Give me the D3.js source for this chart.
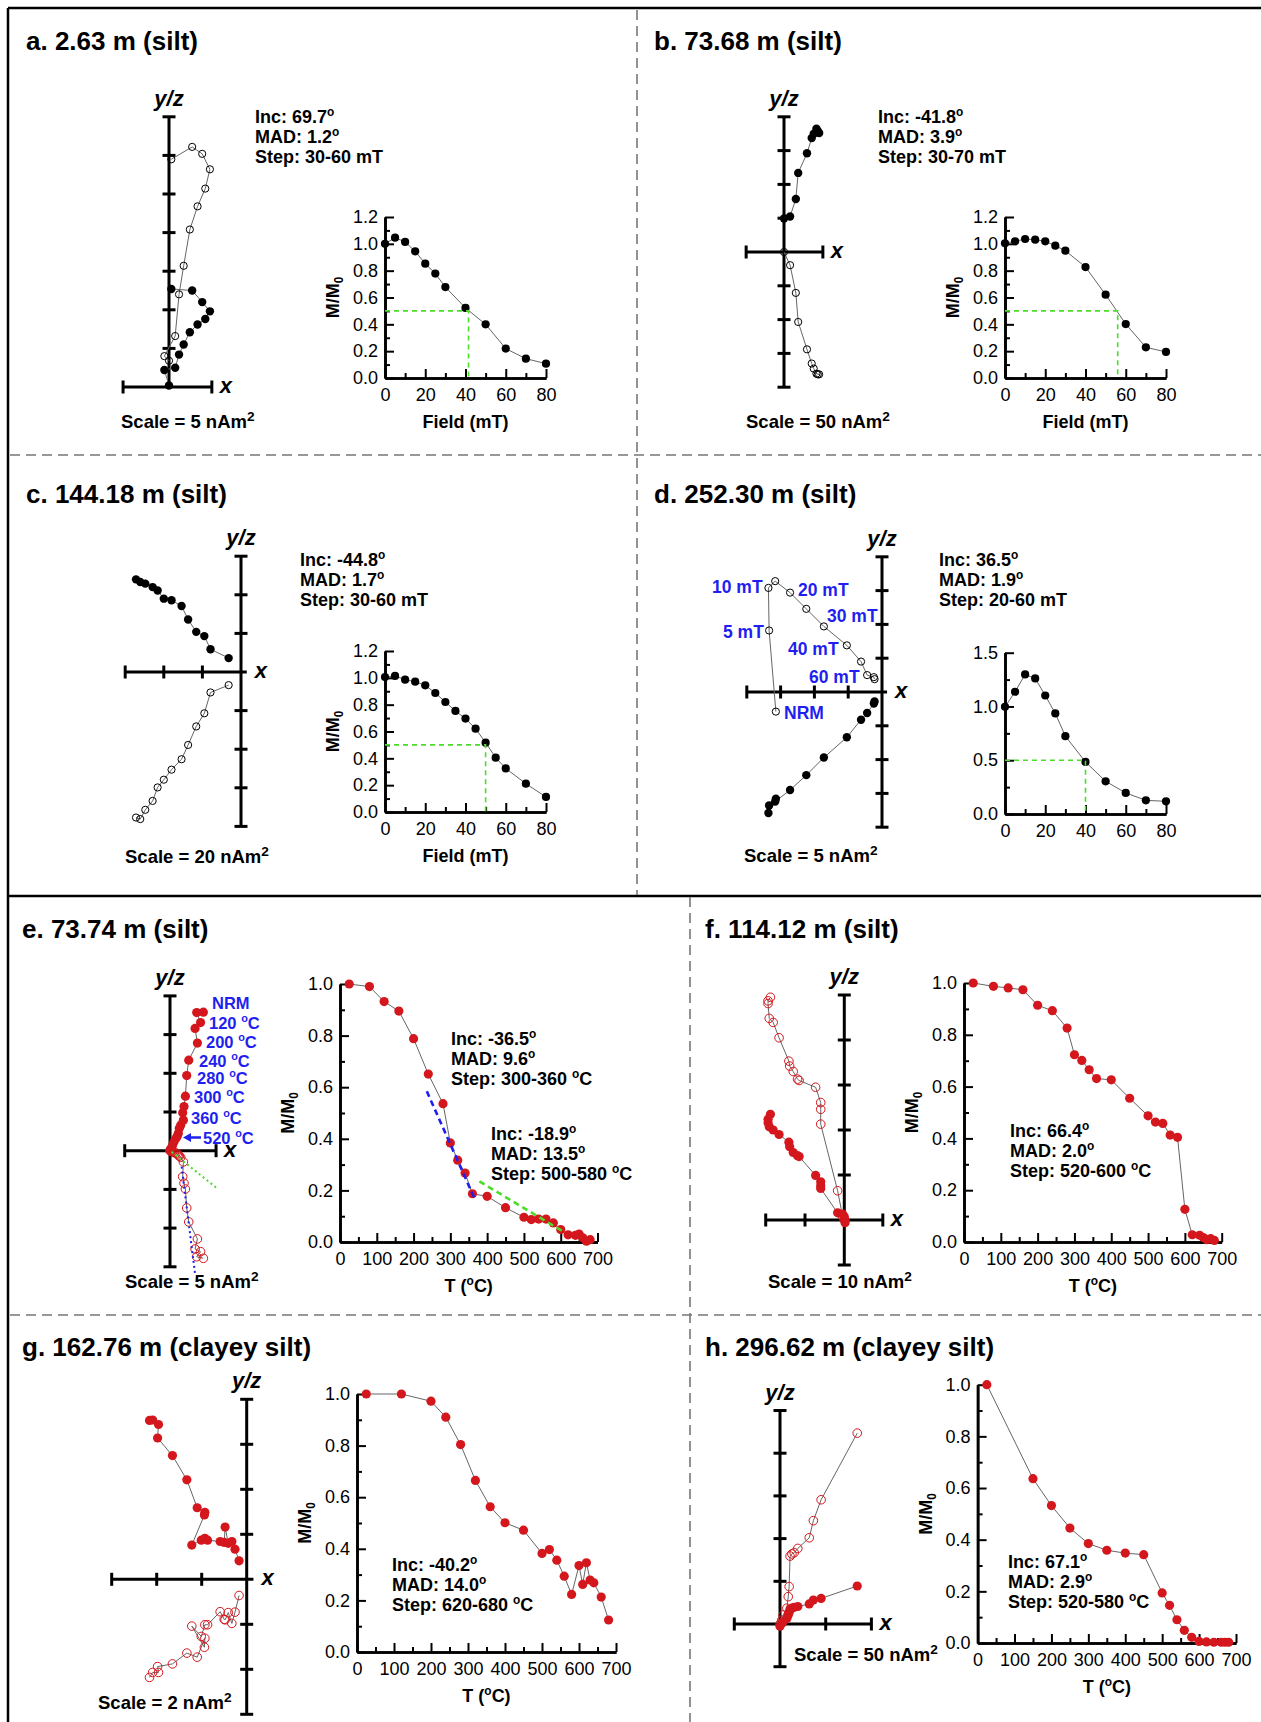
<!DOCTYPE html>
<html lang='en'>
<head>
    <meta charset='UTF-8'>
    <title>Demagnetization results</title>
    <script src='https://cdnjs.cloudflare.com/ajax/libs/d3/7.8.5/d3.min.js'></script>
    <style>
        body { margin: 0; background: #fff; }
        svg { display: block; }
    </style>
</head>
<body>
    <svg id='fig'></svg>
    <script>
        // ---- Zijderveld components (nAm^2): x, horizontal (y, filled) and vertical (z, open) ----
        const aZx = [0.3, 3.0, 4.3, 5.3, 4.7, 3.7, 2.7, 1.9, 1.3, 0.8, -0.6, 0.0];
        const aZy = [12.7, 12.5, 11.0, 9.8, 8.8, 8.1, 7.1, 5.5, 4.2, 2.5, 2.2, 0.2];
        const aZz = [29.5, 31.1, 30.2, 28.2, 25.7, 23.4, 20.4, 15.7, 12.0, 6.6, 4.0, 3.4];

        const bZx = [50, 52, 48, 44, 41, 34, 21, 17.5, 9, 0];
        const bZy = [179, 176, 182.5, 175, 168.5, 146, 117, 78.5, 52.5, 49.5];
        const bZz = [-181, -181, -180, -172.5, -165, -144, -103.5, -60.5, -19.5, 0];

        const cZx = [-54.4, -52.2, -49.6, -45.8, -43.2, -40, -36, -30.8, -27.4, -23.2, -19, -15.8, -6.4];
        const cZy = [48, 46.6, 45.8, 44, 42.2, 38, 37.2, 34.2, 27.2, 20.8, 18.6, 11.8, 7.2];
        const cZz = [-75.4, -76.2, -71.4, -66.8, -59.8, -55.8, -50.6, -45.2, -37.8, -28.2, -21.4, -10.6, -6.8];

        const dZx = [-15.7, -16.7, -16.8, -15.8, -13.6, -11.2, -8.6, -5.2, -3.1, -2.2, -1.2, -1.1];
        const dZy = [-15.8, -16.8, -17.9, -16.2, -14.5, -12.3, -9.7, -6.7, -4.1, -3.1, -1.7, -1.4];
        const dZz = [-2.9, 9.1, 15.4, 16.4, 14.7, 12.3, 9.7, 6.9, 4.5, 2.5, 2.2, 1.9];

        const eZx = [4.31, 3.45, 3.95, 3.24, 3.54, 2.42, 2.16, 1.99, 1.81, 1.64, 1.73, 1.38, 1.2, 1.08, 0.95, 0.78, 0.52, 0.35, 0.13, 0];
        const eZy = [17.9, 17.85, 16.55, 15.8, 13.9, 11.7, 9.7, 7.05, 5.7, 4.9, 3.95, 3.3, 2.9, 2.25, 1.9, 1.6, 1.15, 0.75, 0.3, 0.1];
        const eZz = [-13.9, -13.7, -13.05, -12.7, -11.4, -9.2, -7.4, -4.95, -4.2, -3.35, -1.45, -0.85, -0.7, -0.55, -0.4, -0.3, -0.25, -0.15, -0.1, 0];

        const fZx = [-18.8, -19.4, -19.4, -19.1, -18.1, -16.6, -14.1, -13.9, -13.0, -11.9, -11.5, -7.3, -6.0, -6.0, -6.0, -1.7, -0.4, 0.0, 0.2];
        const fZy = [23.5, 22.4, 21.6, 20.7, 20.0, 19.0, 17.3, 16.3, 15.0, 14.3, 14.1, 9.9, 8.5, 7.6, 7.0, 1.6, 1.3, 0.7, -0.6];
        const fZz = [49.5, 48.7, 48.1, 44.8, 43.9, 40.5, 35.3, 34.2, 33.0, 31.3, 31.0, 29.5, 26.1, 24.6, 21.3, 6.5, 0.7, 0.0, 0.0];

        const gZx = [-4.32, -4.18, -3.92, -3.96, -3.30, -2.66, -2.20, -1.86, -1.88, -2.44, -2.02, -1.86, -1.74, -1.18, -1.00, -0.96, -0.82, -0.66, -0.52, -0.34];
        const gZy = [7.06, 7.08, 6.88, 6.28, 5.50, 4.42, 3.18, 2.98, 2.86, 1.52, 1.74, 1.82, 1.74, 1.68, 1.64, 2.32, 1.60, 1.68, 1.34, 0.82];
        const gZz = [-4.36, -4.14, -4.14, -3.88, -3.76, -3.28, -3.46, -2.62, -3.02, -2.08, -2.54, -2.02, -2.02, -1.44, -1.78, -1.80, -1.48, -1.96, -1.46, -0.72];

        const hZx = [84.5, 45, 36.5, 32, 19.5, 15.5, 13, 11, 10, 9, 7.5, 3.5, 2, 0];
        const hZy = [44.5, 30, 28, 23.5, 20.5, 19.5, 18.5, 17.5, 13.5, 10.5, 6.5, 2.5, 1, -2.5];
        const hZz = [223.5, 145.5, 121, 101, 88.5, 83.5, 82, 79.5, 43.8, 32, 18.5, 10.5, 4.5, 0];

        // ---- demagnetization curves (M/M0) ----
        const afSteps = [0, 5, 10, 15, 20, 25, 30, 40, 50, 60, 70, 80];
        const aMag = [1.0, 1.046, 1.014, 0.944, 0.852, 0.778, 0.678, 0.522, 0.40, 0.219, 0.144, 0.107];
        const bMag = [1.004, 1.019, 1.036, 1.031, 1.019, 0.986, 0.949, 0.827, 0.621, 0.402, 0.229, 0.194];
        const cSteps = [0, 5, 10, 15, 20, 25, 30, 35, 40, 45, 50, 55, 60, 70, 80];
        const cMag = [1.006, 1.014, 0.986, 0.971, 0.944, 0.887, 0.820, 0.753, 0.696, 0.621, 0.517, 0.405, 0.325, 0.211, 0.112];
        const dMag = [0.997, 1.137, 1.298, 1.261, 1.102, 0.935, 0.724, 0.484, 0.304, 0.196, 0.127, 0.118];
        const mdfField = [41.5, 56, 50, 40];

        const eTemp = [25, 80, 120, 160, 200, 240, 280, 300, 320, 340, 360, 400, 450, 500, 520, 540, 560, 580, 600, 620, 640, 650, 660, 670, 680];
        const eMag = [1.0, 0.990, 0.932, 0.895, 0.788, 0.651, 0.536, 0.384, 0.317, 0.267, 0.187, 0.177, 0.133, 0.096, 0.087, 0.089, 0.089, 0.074, 0.048, 0.028, 0.026, 0.031, 0.016, 0.003, 0.009];
        const fTemp = [25, 80, 120, 160, 200, 240, 280, 300, 320, 340, 360, 400, 450, 500, 520, 540, 560, 580, 600, 620, 640, 650, 660, 670, 680];
        const fMag = [1.0, 0.987, 0.981, 0.974, 0.914, 0.893, 0.826, 0.723, 0.701, 0.665, 0.631, 0.626, 0.555, 0.487, 0.463, 0.458, 0.413, 0.404, 0.126, 0.028, 0.026, 0.017, 0.009, 0.013, 0.006];
        const gTemp = [25, 120, 200, 240, 280, 320, 360, 400, 450, 500, 520, 540, 560, 580, 600, 610, 620, 630, 640, 660, 680];
        const gMag = [1.0, 1.0, 0.972, 0.910, 0.804, 0.665, 0.563, 0.501, 0.472, 0.382, 0.397, 0.356, 0.294, 0.223, 0.335, 0.262, 0.346, 0.279, 0.268, 0.213, 0.124];
        const hTemp = [25, 150, 200, 250, 300, 350, 400, 450, 500, 520, 540, 560, 580, 600, 620, 640, 660, 670, 680];
        const hMag = [1.0, 0.636, 0.532, 0.445, 0.385, 0.359, 0.348, 0.342, 0.194, 0.146, 0.090, 0.049, 0.022, 0.006, 0.004, 0.003, 0.003, 0.003, 0.003];

        // PCA fit lines of panel e
        const eFitBlueZx = [1.5, 3.23], eFitBlueZz = [-2.07, -15.86];
        const eFitGreenZx = [0.2, 6.25], eFitGreenZz = [-0.15, -5.0];
        const eFitBlueT = [236, 365], eFitBlueM = [0.584, 0.171];
        const eFitGreenT = [379, 606], eFitGreenM = [0.235, 0.041];

        // ---- texts ----
        const titles = ['a. 2.63 m (silt)', 'b. 73.68 m (silt)', 'c. 144.18 m (silt)', 'd. 252.30 m (silt)',
            'e. 73.74 m (silt)', 'f. 114.12 m (silt)', 'g. 162.76 m (clayey silt)', 'h. 296.62 m (clayey silt)'];
        const incs = ['69.7', '-41.8', '-44.8', '36.5', '-36.5', '66.4', '-40.2', '67.1', '-18.9'];
        const mads = ['1.2', '3.9', '1.7', '1.9', '9.6', '2.0', '14.0', '2.9', '13.5'];
        const stepsTxt = ['30-60 mT', '30-70 mT', '30-60 mT', '20-60 mT', '300-360 ^{o}C', '520-600 ^{o}C', '620-680 ^{o}C', '520-580 ^{o}C', '500-580 ^{o}C'];
        const scales = [5, 50, 20, 5, 5, 10, 2, 50];
        const dStepLabels = ['10 mT', '20 mT', '30 mT', '5 mT', '40 mT', '60 mT', 'NRM'];
        const eStepLabels = ['NRM', '120 ^{o}C', '200 ^{o}C', '240 ^{o}C', '280 ^{o}C', '300 ^{o}C', '360 ^{o}C', '520 ^{o}C'];

        // ---- layout ----
        const W = 1261, H = 1722;
        const FONT = "'Liberation Sans', Arial, Helvetica, sans-serif";
        const BLUE = '#1f1ff0', RED = '#d3171d', GREEN = '#4cdc2a', LINE = '#666';

        const zijLayout = [
            {ox: 169, oy: 387, kx: 38.6, ky: 38.6, ext: [-1.19, 1.11, 0, 7], xticks: false},
            {ox: 784, oy: 252, kx: 33.8, ky: 33.8, ext: [-1.12, 1.15, -4, 4], xticks: false},
            {ox: 241, oy: 672, kx: 38.6, ky: 38.6, ext: [-3, 0.15, -4, 3], xticks: true},
            {ox: 882, oy: 692, kx: 33.8, ky: 33.8, ext: [-4, 0.15, -4, 4], xticks: true},
            {ox: 170, oy: 1150.7, kx: 38.7, ky: 38.7, ext: [-1.17, 1.19, -3, 4], xticks: false},
            {ox: 844.3, oy: 1220, kx: 39.3, ky: 45, ext: [-2, 0.98, -1, 5], xticks: true},
            {ox: 246.7, oy: 1579.3, kx: 45, ky: 45, ext: [-3, 0.15, -3, 4], xticks: true},
            {ox: 780, oy: 1624, kx: 45.7, ky: 42.7, ext: [-1, 2, -1, 5], xticks: true}
        ];
        const afLayout = {xmax: 80, xMajor: 20, xMinor: 10, ymax: 1.2, yMajor: 0.2, yMinor: 0.1};
        const thLayout = {xmax: 700, xMajor: 100, xMinor: 50, ymax: 1.0, yMajor: 0.2, yMinor: 0.1};
        const demagLayout = [
            Object.assign({x0: 385, x1: 546, y0: 378, y1: 217}, afLayout),
            Object.assign({x0: 1005, x1: 1166, y0: 378, y1: 217}, afLayout),
            Object.assign({x0: 385, x1: 546, y0: 812, y1: 651}, afLayout),
            Object.assign({x0: 1005, x1: 1166, y0: 814, y1: 652.7}, afLayout, {ymax: 1.5, yMajor: 0.5, yMinor: 0.25}),
            Object.assign({x0: 340, x1: 597.5, y0: 1242, y1: 984}, thLayout),
            Object.assign({x0: 964, x1: 1221.7, y0: 1242, y1: 983}, thLayout),
            Object.assign({x0: 357, x1: 616, y0: 1652, y1: 1394}, thLayout),
            Object.assign({x0: 977.6, x1: 1236, y0: 1643, y1: 1384.7}, thLayout)
        ];
        const titlePos = [[26, 50], [654, 50], [26, 503], [654, 503], [22, 938], [705, 938], [22, 1356], [705, 1356]];
        const infoPos = [[255, 123], [878, 123], [300, 566], [939, 566], [451, 1045], [1010, 1137], [392, 1571], [1008, 1568], [491, 1140]];
        const scalePos = [[121, 428], [746, 428], [125, 863], [744, 862], [125, 1288], [768, 1288], [98, 1709], [794, 1661]];
        const dLabelPos = [[712, 593], [798, 596], [827, 622], [723, 638], [788, 655], [809, 683], [784, 719]];
        const eLabelPos = [[212, 1009], [209, 1029], [206, 1048], [199, 1067], [197, 1084], [194, 1103], [191, 1124], [203, 1144]];

        const svg = d3.select('#fig').attr('width', W).attr('height', H)
            .attr('font-family', FONT);

        // text with ^{sup} and _{sub} parts
        function rich(sel, str, fs, supScale) {
            const re = /([\^_])\{([^}]*)\}/g;
            let last = 0, m, cur = 0;
            while ((m = re.exec(str))) {
                if (m.index > last) {
                    sel.append('tspan').attr('dy', -cur).text(str.slice(last, m.index));
                    cur = 0;
                }
                const s = m[1] === '^' ? -0.4 * fs : 0.22 * fs;
                sel.append('tspan').attr('font-size', (supScale || 0.66) * fs).attr('dy', s - cur).text(m[2]);
                cur = s;
                last = re.lastIndex;
            }
            if (last < str.length) sel.append('tspan').attr('dy', -cur).text(str.slice(last));
        }

        function label(x, y, str, fs, opts = {}) {
            const t = svg.append('text')
                .attr('x', x).attr('y', y)
                .attr('font-size', fs)
                .attr('font-weight', opts.weight || 'bold')
                .attr('fill', opts.fill || '#000')
                .attr('text-anchor', opts.anchor || 'start')
                .style('white-space', 'pre');
            if (opts.italic) t.attr('font-style', 'italic');
            if (opts.rotate) t.attr('transform', `rotate(-90 ${x} ${y})`);
            rich(t, str, fs, opts.supScale);
            return t;
        }

        // ---- frame and dividers ----
        const frame = svg.append('g').attr('stroke', '#000').attr('stroke-width', 2.5);
        frame.append('line').attr('x1', 8).attr('y1', 8).attr('x2', W).attr('y2', 8);
        frame.append('line').attr('x1', 8).attr('y1', 8).attr('x2', 8).attr('y2', H);
        frame.append('line').attr('x1', 8).attr('y1', 896).attr('x2', W).attr('y2', 896);
        const dash = svg.append('g').attr('stroke', '#777').attr('stroke-width', 1.6).attr('stroke-dasharray', '10,6');
        dash.append('line').attr('x1', 10).attr('y1', 455).attr('x2', W).attr('y2', 455);
        dash.append('line').attr('x1', 10).attr('y1', 1315).attr('x2', W).attr('y2', 1315);
        dash.append('line').attr('x1', 637).attr('y1', 10).attr('x2', 637).attr('y2', 895);
        dash.append('line').attr('x1', 690).attr('y1', 897).attr('x2', 690).attr('y2', H);

        // ---- Zijderveld diagram ----
        function drawZij(L, step, X, Y, Z, col, big) {
            const g = svg.append('g');
            const sx = d3.scaleLinear().domain([0, step]).range([L.ox, L.ox + L.kx]);
            const sy = d3.scaleLinear().domain([0, step]).range([L.oy, L.oy - L.ky]);
            const [l, r, b, t] = L.ext;
            const ax = g.append('g').attr('stroke', '#000').attr('stroke-width', 3);
            ax.append('line').attr('x1', sx(l * step)).attr('x2', sx(r * step)).attr('y1', sy(0)).attr('y2', sy(0));
            ax.append('line').attr('x1', sx(0)).attr('x2', sx(0)).attr('y1', sy(b * step)).attr('y2', sy(t * step));
            const yt = d3.range(b, t + 1).filter(k => k !== 0);
            ax.selectAll('.yt').data(yt).join('line')
                .attr('x1', sx(0) - 6.5).attr('x2', sx(0) + 6.5)
                .attr('y1', k => sy(k * step)).attr('y2', k => sy(k * step));
            let xt = L.xticks ? d3.range(Math.ceil(l), Math.floor(r) + 1).filter(k => k !== 0) : [];
            [l, r].forEach(e => { if (Math.abs(e) > 0.5 && !xt.includes(e)) xt.push(e); });
            ax.selectAll('.xt').data(xt).join('line')
                .attr('y1', sy(0) - 6.5).attr('y2', sy(0) + 6.5)
                .attr('x1', k => sx(k * step)).attr('x2', k => sx(k * step));

            const idx = d3.range(X.length);
            const lineH = d3.line().x(i => sx(X[i])).y(i => sy(Y[i]));
            const lineV = d3.line().x(i => sx(X[i])).y(i => sy(Z[i]));
            g.append('path').attr('d', lineV(idx)).attr('fill', 'none').attr('stroke', LINE).attr('stroke-width', 1);
            g.append('path').attr('d', lineH(idx)).attr('fill', 'none').attr('stroke', LINE).attr('stroke-width', 1);
            g.selectAll('.open').data(idx).join('circle')
                .attr('cx', i => sx(X[i])).attr('cy', i => sy(Z[i]))
                .attr('r', big ? 4.3 : 3.6)
                .attr('fill', 'none').attr('stroke', col).attr('stroke-width', 1);
            g.selectAll('.fill').data(idx).join('circle')
                .attr('cx', i => sx(X[i])).attr('cy', i => sy(Y[i]))
                .attr('r', big ? 4.6 : 4.2).attr('fill', col);

            label(sx(0), sy(t * step) - 11, 'y/z', 22, {anchor: 'middle', italic: true});
            label(sx(r * step) + 8, sy(0) + 6, 'x', 22, {italic: true});
            return {sx, sy, g};
        }

        // ---- demagnetization curve ----
        function drawDemag(L, xs, ms, col, big, withLabels, xTitle) {
            const g = svg.append('g');
            const x = d3.scaleLinear().domain([0, L.xmax]).range([L.x0, L.x1]);
            const y = d3.scaleLinear().domain([0, L.ymax]).range([L.y0, L.y1]);
            const eps = 1e-9;
            const xMaj = d3.range(0, L.xmax + eps, L.xMajor);
            const xMin = d3.range(L.xMinor, L.xmax, L.xMajor);
            const yMaj = d3.range(0, L.ymax + eps, L.yMajor);
            const yMin = d3.range(L.yMinor, L.ymax, L.yMajor);
            const fmtY = d3.format('.1f');

            g.append('g').attr('transform', `translate(0,${L.y0})`)
                .call(d3.axisBottom(x).tickValues(xMin).tickSize(-5).tickSizeOuter(0).tickFormat(''));
            g.append('g').attr('transform', `translate(${L.x0},0)`)
                .call(d3.axisLeft(y).tickValues(yMin).tickSize(-5).tickSizeOuter(0).tickFormat(''));
            g.append('g').attr('transform', `translate(0,${L.y0})`)
                .call(d3.axisBottom(x).tickValues(xMaj).tickSize(-9).tickSizeOuter(0).tickPadding(10).tickFormat(d3.format('d')));
            g.append('g').attr('transform', `translate(${L.x0},0)`)
                .call(d3.axisLeft(y).tickValues(yMaj).tickSize(-9).tickSizeOuter(0).tickPadding(7).tickFormat(fmtY));
            g.selectAll('.domain').attr('stroke', '#000').attr('stroke-width', 2.6);
            g.selectAll('.tick line').attr('stroke', '#000').attr('stroke-width', 2);
            g.selectAll('.tick text').attr('font-size', 18).attr('font-family', FONT).attr('fill', '#000');
            g.selectAll('g').attr('font-family', null).attr('font-size', null);

            const idx = d3.range(xs.length);
            g.append('path')
                .attr('d', d3.line().x(i => x(xs[i])).y(i => y(ms[i]))(idx))
                .attr('fill', 'none').attr('stroke', LINE).attr('stroke-width', 1);
            g.selectAll('.dot').data(idx).join('circle')
                .attr('cx', i => x(xs[i])).attr('cy', i => y(ms[i]))
                .attr('r', big ? 4.6 : 4.1).attr('fill', col);

            if (withLabels) {
                const cy = (L.y0 + L.y1) / 2;
                label(L.x0 - 52 + 6, cy, 'M/M_{0}', 18, {anchor: 'middle', rotate: true});
                label((L.x0 + L.x1) / 2, L.y0 + 50, xTitle, 18, {anchor: 'middle'});
            }
            return {x, y, g};
        }

        function info(k, pos) {
            label(pos[0], pos[1], 'Inc: ' + incs[k] + '^{o}', 18);
            label(pos[0], pos[1] + 20, 'MAD: ' + mads[k] + '^{o}', 18);
            label(pos[0], pos[1] + 40, 'Step: ' + stepsTxt[k], 18);
        }

        const zData = [[aZx, aZy, aZz], [bZx, bZy, bZz], [cZx, cZy, cZz], [dZx, dZy, dZz],
            [eZx, eZy, eZz], [fZx, fZy, fZz], [gZx, gZy, gZz], [hZx, hZy, hZz]];
        const mData = [[afSteps, aMag], [afSteps, bMag], [cSteps, cMag], [afSteps, dMag],
            [eTemp, eMag], [fTemp, fMag], [gTemp, gMag], [hTemp, hMag]];

        const zPlots = [], mPlots = [];
        titles.forEach((title, k) => {
            const thermal = k >= 4;
            const col = thermal ? RED : '#000';
            label(titlePos[k][0], titlePos[k][1], title, 26);
            zPlots.push(drawZij(zijLayout[k], scales[k], zData[k][0], zData[k][1], zData[k][2], col, thermal));
            mPlots.push(drawDemag(demagLayout[k], mData[k][0], mData[k][1], col, thermal, k !== 3,
                thermal ? 'T (^{o}C)' : 'Field (mT)'));
            info(k, infoPos[k]);
            label(scalePos[k][0], scalePos[k][1], 'Scale = ' + scales[k] + ' nAm^{2}', 18.5, {supScale: 0.74});
        });
        info(8, infoPos[8]);

        // median destructive field guides
        mdfField.forEach((f, k) => {
            const p = mPlots[k];
            mPlots[k].g.append('path')
                .attr('d', `M${p.x(0)},${p.y(0.5)}H${p.x(f)}V${p.y(0)}`)
                .attr('fill', 'none').attr('stroke', GREEN).attr('stroke-width', 1.6)
                .attr('stroke-dasharray', '5,4');
        });

        // PCA fits of panel e
        const ez = zPlots[4], em = mPlots[4];
        const fitLine = (g, xs, ys, sx, sy, colr, w, da) => g.append('path')
            .attr('d', d3.line().x(i => sx(xs[i])).y(i => sy(ys[i]))([0, 1]))
            .attr('stroke', colr).attr('stroke-width', w).attr('stroke-dasharray', da).attr('fill', 'none');
        fitLine(ez.g, eFitBlueZx, eFitBlueZz, ez.sx, ez.sy, BLUE, 2, '2,3');
        fitLine(ez.g, eFitGreenZx, eFitGreenZz, ez.sx, ez.sy, GREEN, 2, '2,3');
        fitLine(em.g, eFitBlueT, eFitBlueM, em.x, em.y, BLUE, 2.6, '6,4');
        fitLine(em.g, eFitGreenT, eFitGreenM, em.x, em.y, GREEN, 2.6, '6,4');

        // step annotations
        dStepLabels.forEach((s, i) => label(dLabelPos[i][0], dLabelPos[i][1], s, 17.5, {fill: BLUE}));
        eStepLabels.forEach((s, i) => label(eLabelPos[i][0], eLabelPos[i][1], s, 16.5, {fill: BLUE}));
        svg.append('line').attr('x1', 189).attr('x2', 201).attr('y1', 1137.5).attr('y2', 1137.5)
            .attr('stroke', BLUE).attr('stroke-width', 2.5);
        svg.append('path').attr('d', 'M183,1137.5L191,1133L191,1142Z').attr('fill', BLUE);
    </script>
</body>
</html>
